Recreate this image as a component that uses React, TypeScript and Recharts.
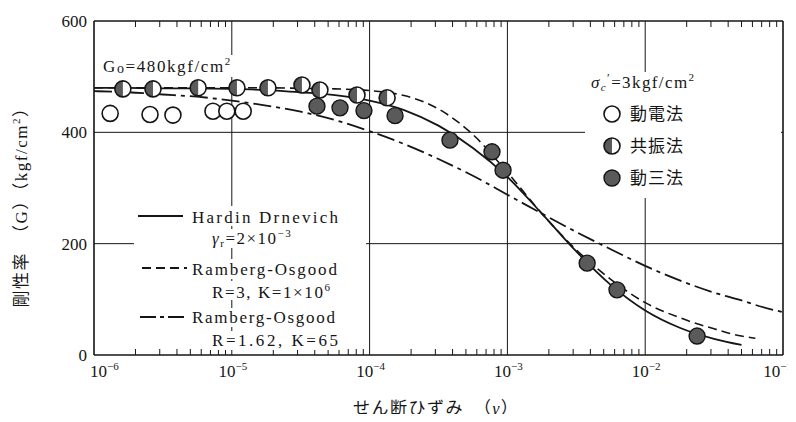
import { ComposedChart, Line, Scatter, XAxis, YAxis, ReferenceLine } from "recharts"

// strain (gamma) sample points along the curves
const strain = [
  1e-6, 1.78e-6, 3.16e-6, 5.62e-6, 1e-5, 1.78e-5, 3.16e-5, 5.62e-5, 1e-4, 1.78e-4, 3.16e-4, 5.62e-4, 1e-3,
  1.78e-3, 3.16e-3, 5.62e-3, 1e-2, 1.78e-2, 3.16e-2, 5e-2, 5.62e-2, 6.3e-2, 1e-1,
]
// Hardin Drnevich, gamma_r = 2e-3 (solid)
const hardin = [
  480, 480, 479, 479, 478, 476, 472, 467, 457, 440, 412, 372, 320, 254, 186, 126, 80, 49, 29, 18, null, null, null,
]
// Ramberg-Osgood R=3, K=1e6 (dashed)
const rambergR3 = [
  480, 480, 480, 480, 480, 480, 479, 478, 475, 466, 442, 396, 328, 254, 189, 136, 94, 67, 47, 34, 32, 30, null,
]
// Ramberg-Osgood R=1.62, K=65 (dash-dot)
const rambergR162 = [
  474, 472, 468, 464, 457, 448, 437, 422, 402, 379, 352, 322, 288, 254, 221, 190, 160, 134, 112, 98, 94, 90, 77,
]

// 動電法 (open)
const dodenStrain = [1.31e-6, 2.55e-6, 3.74e-6, 7.3e-6, 9.2e-6, 1.21e-5]
const dodenG = [434, 432, 431, 438, 438, 438]
// 共振法 (half filled)
const kyoshinStrain = [1.62e-6, 2.68e-6, 5.7e-6, 1.09e-5, 1.83e-5, 3.23e-5, 4.36e-5, 8.1e-5, 1.34e-4]
const kyoshinG = [478, 478, 480, 480, 480, 485, 476, 467, 462]
// 動三法 (filled)
const dosanStrain = [4.15e-5, 6.1e-5, 9.1e-5, 1.53e-4, 3.83e-4, 7.73e-4, 9.3e-4, 3.79e-3, 6.24e-3, 2.38e-2]
const dosanG = [447, 444, 439, 430, 386, 365, 332, 165, 117, 34]

const decades = [1e-6, 1e-5, 1e-4, 1e-3, 1e-2, 1e-1]
const innerDecades = [1e-5, 1e-4, 1e-3, 1e-2]
const minorSteps = [2, 3, 4, 5, 6, 7, 8, 9]
const yTicks = [0, 200, 400, 600]
const yGrid = [200, 400]

const curveData = strain.map((x, i) => ({ x, hd: hardin[i], ro3: rambergR3[i], ro162: rambergR162[i] }))
const toPoints = (xs: number[], gs: number[]) => xs.map((x, i) => ({ x, g: gs[i] }))
const dodenPoints = toPoints(dodenStrain, dodenG)
const kyoshinPoints = toPoints(kyoshinStrain, kyoshinG)
const dosanPoints = toPoints(dosanStrain, dosanG)

const xTicks = decades.flatMap((d) => (d === 0.1 ? [d] : [d, ...minorSteps.map((m) => +(d * m).toPrecision(3))]))

const SERIF = "'Liberation Serif', 'Times New Roman', serif"
const MIXED = "'Liberation Serif', 'Noto Sans CJK JP', serif"
const JP = "'Noto Sans CJK JP', sans-serif"
const INK = "#151515"
const DARK = "#5a5a5a"

const isDecade = (v: number) => {
  const e = Math.log10(v)
  return Math.abs(e - Math.round(e)) < 1e-9
}

function BottomTick(props: any) {
  const { x, y, payload } = props
  const v = payload.value
  if (!isDecade(v)) {
    return <line x1={x} x2={x} y1={y} y2={y - 6} stroke={INK} strokeWidth={1} />
  }
  const exp = Math.round(Math.log10(v))
  // first label sits right of the corner, last one ends near the page edge
  let tx = x + 1
  let anchor: "start" | "middle" | "end" = "middle"
  if (exp === -6) {
    tx = x - 4
    anchor = "start"
  } else if (exp === -1) {
    tx = x + 9
    anchor = "end"
  }
  return (
    <text x={tx} y={y + 22} textAnchor={anchor} fontSize={17} fontFamily={SERIF} fill={INK}>
      10
      <tspan fontSize={11} dy={-7}>
        {"\u2212" + -exp}
      </tspan>
    </text>
  )
}

function TopTick(props: any) {
  const { x, y, payload } = props
  if (isDecade(payload.value)) return <g />
  return <line x1={x} x2={x} y1={y} y2={y + 6} stroke={INK} strokeWidth={1} />
}

function OpenMark({ cx, cy }: any) {
  return <circle cx={cx} cy={cy} r={8} fill="#fff" stroke={INK} strokeWidth={1.6} />
}

function HalfMark({ cx, cy }: any) {
  return (
    <g>
      <circle cx={cx} cy={cy} r={8} fill="#fff" />
      <path d={`M${cx},${cy - 8} A8,8 0 0 0 ${cx},${cy + 8} Z`} fill={DARK} />
      <circle cx={cx} cy={cy} r={8} fill="none" stroke={INK} strokeWidth={1.6} />
    </g>
  )
}

function SolidMark({ cx, cy }: any) {
  return <circle cx={cx} cy={cy} r={8} fill={DARK} stroke={INK} strokeWidth={1.4} />
}

const DASH = "9 5"
const DASH_DOT = "18 5 4 5"

function Overlay() {
  const t = { fontSize: 17, fill: INK, fontFamily: SERIF }
  const jp = { fontSize: 17, fill: INK, fontFamily: JP }
  return (
    <svg width={796} height={422} style={{ position: "absolute", left: -8, top: -8, pointerEvents: "none" }}>
      {/* white backgrounds behind the annotations */}
      <rect x={100} y={55} width={144} height={22} fill="#fff" />
      <rect x={585} y={72} width={196} height={126} fill="#fff" />
      <rect x={134} y={206} width={212} height={20} fill="#fff" />
      <rect x={134} y={229} width={232} height={19} fill="#fff" />
      <rect x={134} y={259} width={212} height={20} fill="#fff" />
      <rect x={205} y={281} width={147} height={19} fill="#fff" />
      <rect x={134} y={308} width={212} height={19} fill="#fff" />
      <rect x={205} y={331} width={142} height={19} fill="#fff" />

      <text x={103} y={72} {...t} letterSpacing={1.6}>
        G<tspan fontSize={14} dy={1}>o</tspan>
        <tspan dy={-1}>=480kgf/cm</tspan>
        <tspan fontSize={11} dy={-7}>2</tspan>
      </text>

      {/* marker legend */}
      <text x={591} y={88} {...t} letterSpacing={1.4}>
        <tspan fontStyle="italic">σ</tspan>
        <tspan fontSize={11} dy={3} fontStyle="italic">c</tspan>
        <tspan fontSize={12} dy={-9}>′</tspan>
        <tspan dy={6}>=3kgf/cm</tspan>
        <tspan fontSize={11} dy={-7}>2</tspan>
      </text>
      <OpenMark cx={612} cy={114} />
      <HalfMark cx={612} cy={146} />
      <SolidMark cx={612} cy={178} />
      <text x={630} y={120} {...jp} textLength={53} lengthAdjust="spacing">動電法</text>
      <text x={630} y={152} {...jp} textLength={53} lengthAdjust="spacing">共振法</text>
      <text x={630} y={184} {...jp} textLength={53} lengthAdjust="spacing">動三法</text>

      {/* curve legend */}
      <line x1={138} x2={183} y1={216} y2={216} stroke={INK} strokeWidth={1.8} />
      <text x={192} y={223} {...t} textLength={146} lengthAdjust="spacing">Hardin Drnevich</text>
      <text x={212} y={244} {...t} letterSpacing={1.5}>
        <tspan fontStyle="italic">γ</tspan>
        <tspan fontSize={11} dy={3}>r</tspan>
        <tspan dy={-3}>=2×10</tspan>
        <tspan fontSize={11} dy={-7}>{"\u22123"}</tspan>
      </text>
      <line x1={142} x2={187} y1={268} y2={268} stroke={INK} strokeWidth={1.8} strokeDasharray={DASH} />
      <text x={192} y={275} {...t} textLength={145} lengthAdjust="spacing">Ramberg-Osgood</text>
      <text x={212} y={298} {...t} letterSpacing={1.6}>
        R=3, K=1×10<tspan fontSize={11} dy={-7}>6</tspan>
      </text>
      <line x1={140} x2={188} y1={317} y2={317} stroke={INK} strokeWidth={1.8} strokeDasharray="16 4 4 4" />
      <text x={192} y={323} {...t} textLength={143} lengthAdjust="spacing">Ramberg-Osgood</text>
      <text x={212} y={346} {...t} textLength={126} lengthAdjust="spacing">R=1.62, K=65</text>

      {/* axis titles */}
      <text x={353} y={414} {...jp} letterSpacing={1.5}>
        せん断ひずみ　（<tspan fontFamily={SERIF} fontStyle="italic">γ</tspan>）
      </text>
      <text
        x={27}
        y={203}
        fontSize={17}
        fill={INK}
        fontFamily={MIXED}
        letterSpacing={1.5}
        textAnchor="middle"
        transform="rotate(-90 27 203)"
      >
        剛性率　（G）（kgf/cm<tspan fontSize={11} dy={-7}>2</tspan>
        <tspan dy={7}>）</tspan>
      </text>
    </svg>
  )
}

export default function App() {
  return (
    <div style={{ position: "relative", width: 788, height: 406 }}>
      <ComposedChart
        width={788}
        height={406}
        data={curveData}
        margin={{ top: 8, right: 13, left: 26, bottom: 19 }}
        style={{ background: "#fff" }}
      >
        <XAxis
          dataKey="x"
          type="number"
          scale="log"
          domain={[1e-6, 1e-1]}
          allowDataOverflow
          ticks={xTicks}
          interval={0}
          height={40}
          tickSize={0}
          tickMargin={0}
          tickLine={false}
          tick={(p: any) => <BottomTick {...p} />}
          axisLine={{ stroke: INK, strokeWidth: 1.6 }}
        />
        <XAxis
          xAxisId="top"
          orientation="top"
          dataKey="x"
          type="number"
          scale="log"
          domain={[1e-6, 1e-1]}
          allowDataOverflow
          ticks={xTicks}
          interval={0}
          height={5}
          tickSize={0}
          tickMargin={0}
          tickLine={false}
          tick={(p: any) => <TopTick {...p} />}
          axisLine={{ stroke: INK, strokeWidth: 1.6 }}
        />
        <YAxis
          type="number"
          domain={[0, 600]}
          ticks={yTicks}
          width={60}
          tickLine={false}
          tickSize={0}
          tickMargin={7}
          tick={{ fontSize: 17, fill: INK, fontFamily: SERIF }}
          axisLine={{ stroke: INK, strokeWidth: 1.6 }}
        />
        {innerDecades.map((d) => (
          <ReferenceLine key={d} x={d} stroke={INK} strokeWidth={1} />
        ))}
        <ReferenceLine x={1e-1} stroke={INK} strokeWidth={1.6} />
        {yGrid.map((g) => (
          <ReferenceLine key={g} y={g} stroke={INK} strokeWidth={1} />
        ))}
        <Line dataKey="ro162" type="monotone" stroke={INK} strokeWidth={1.8} strokeDasharray={DASH_DOT} dot={false} isAnimationActive={false} />
        <Line dataKey="ro3" type="monotone" stroke={INK} strokeWidth={1.6} strokeDasharray={DASH} dot={false} isAnimationActive={false} />
        <Line dataKey="hd" type="monotone" stroke={INK} strokeWidth={1.8} dot={false} isAnimationActive={false} />
        <Scatter data={dodenPoints} dataKey="g" shape={(p: any) => <OpenMark {...p} />} isAnimationActive={false} />
        <Scatter data={kyoshinPoints} dataKey="g" shape={(p: any) => <HalfMark {...p} />} isAnimationActive={false} />
        <Scatter data={dosanPoints} dataKey="g" shape={(p: any) => <SolidMark {...p} />} isAnimationActive={false} />
      </ComposedChart>
      <Overlay />
    </div>
  )
}
